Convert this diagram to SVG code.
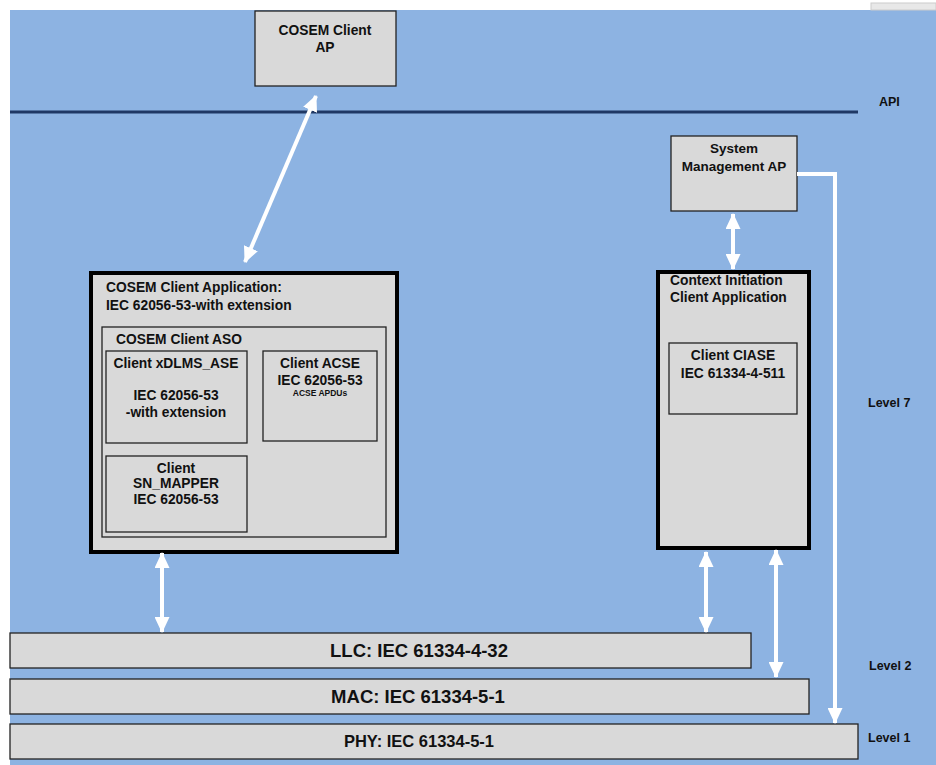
<svg xmlns="http://www.w3.org/2000/svg" width="936" height="765" viewBox="0 0 936 765">
<defs>
<style>
.t{font-family:"Liberation Sans",Arial,sans-serif;font-weight:bold;fill:#111;font-size:13.8px}
.c{text-anchor:middle}
.s12{font-size:12.5px}
.s13{font-size:13.5px}
.s9{font-size:8.5px}
.s17{font-size:18.5px}
.s15{font-size:16.5px}
.box{fill:#d9d9d9;stroke:#222;stroke-width:1.3}
.thick{fill:#d9d9d9;stroke:#000;stroke-width:4}
.bar{fill:#d9d9d9;stroke:#222;stroke-width:1.3}
.w{stroke:#fff;stroke-width:4;fill:none}
</style>
<marker id="ah" viewBox="0 0 16 15" refX="15" refY="7.5" markerWidth="16" markerHeight="15" markerUnits="userSpaceOnUse" orient="auto-start-reverse">
<path d="M0,0 L16,7.5 L0,15 Z" fill="#fff"/>
</marker>
</defs>
<rect x="0" y="0" width="936" height="765" fill="#fff"/>
<rect x="10" y="10" width="926" height="755" fill="#8db3e2"/>
<rect x="871" y="3" width="65" height="7" fill="#e8e8e8" stroke="#ccc" stroke-width="1"/>
<line x1="10" y1="112" x2="858" y2="112" stroke="#1f3864" stroke-width="3"/>
<text class="t s12" x="879" y="106">API</text>

<g id="cosem-client-ap">
<rect class="box" x="255" y="11" width="141" height="75"/>
<text class="t c" x="325" y="35">COSEM Client</text>
<text class="t c" x="325" y="52">AP</text>
</g>

<g id="cosem-client-app">
<rect class="thick" x="91" y="273" width="306" height="279"/>
<text class="t" x="106" y="292">COSEM Client Application:</text>
<text class="t" x="106" y="310">IEC 62056-53-with extension</text>
</g>
<g id="aso">
<rect fill="none" stroke="#222" stroke-width="1.3" x="102" y="327" width="284" height="210"/>
<text class="t" x="116" y="344">COSEM Client ASO</text>
</g>
<g id="xdlms">
<rect class="box" x="106" y="351" width="141" height="92"/>
<text class="t c" x="176" y="368">Client xDLMS_ASE</text>
<text class="t c" x="176" y="400">IEC 62056-53</text>
<text class="t c" x="176" y="417">-with extension</text>
</g>
<g id="acse">
<rect class="box" x="263" y="351" width="114" height="90"/>
<text class="t c" x="320" y="368">Client ACSE</text>
<text class="t c" x="320" y="385">IEC 62056-53</text>
<text class="t c s9" x="320" y="396">ACSE APDUs</text>
</g>
<g id="sn-mapper">
<rect class="box" x="106" y="456" width="141" height="76"/>
<text class="t c" x="176" y="473">Client</text>
<text class="t c" x="176" y="488">SN_MAPPER</text>
<text class="t c" x="176" y="504">IEC 62056-53</text>
</g>

<g id="sys-mgmt-ap">
<rect class="box" x="671" y="136" width="126" height="75"/>
<text class="t c s13" x="734" y="153">System</text>
<text class="t c s13" x="734" y="171">Management AP</text>
</g>
<g id="context-init">
<rect class="thick" x="658" y="272" width="151" height="276"/>
<text class="t" x="670" y="285">Context Initiation</text>
<text class="t" x="670" y="302">Client Application</text>
</g>
<g id="ciase">
<rect class="box" x="669" y="343" width="128" height="71"/>
<text class="t c" x="733" y="360">Client CIASE</text>
<text class="t c" x="733" y="378">IEC 61334-4-511</text>
</g>

<g id="llc">
<rect class="bar" x="10" y="633" width="741" height="35"/>
<text class="t c s17" x="419" y="657">LLC: IEC 61334-4-32</text>
</g>
<g id="mac">
<rect class="bar" x="10" y="679" width="799" height="35"/>
<text class="t c s17" x="418" y="703">MAC: IEC 61334-5-1</text>
</g>
<g id="phy">
<rect class="bar" x="10" y="724" width="848" height="35"/>
<text class="t c s15" x="419" y="747">PHY: IEC 61334-5-1</text>
</g>

<text class="t s12" x="868" y="407">Level 7</text>
<text class="t s12" x="869" y="670">Level 2</text>
<text class="t s12" x="868" y="742">Level 1</text>

<g id="connectors">
<line class="w" x1="245" y1="262" x2="316" y2="96" marker-start="url(#ah)" marker-end="url(#ah)"/>
<line class="w" x1="733" y1="214" x2="733" y2="269" marker-start="url(#ah)" marker-end="url(#ah)"/>
<line class="w" x1="162" y1="553" x2="162" y2="632" marker-start="url(#ah)" marker-end="url(#ah)"/>
<line class="w" x1="706" y1="552" x2="706" y2="632" marker-start="url(#ah)" marker-end="url(#ah)"/>
<line class="w" x1="776" y1="550" x2="776" y2="677" marker-start="url(#ah)" marker-end="url(#ah)"/>
<polyline class="w" points="797,174 835,174 835,723" marker-end="url(#ah)"/>
</g>
</svg>
